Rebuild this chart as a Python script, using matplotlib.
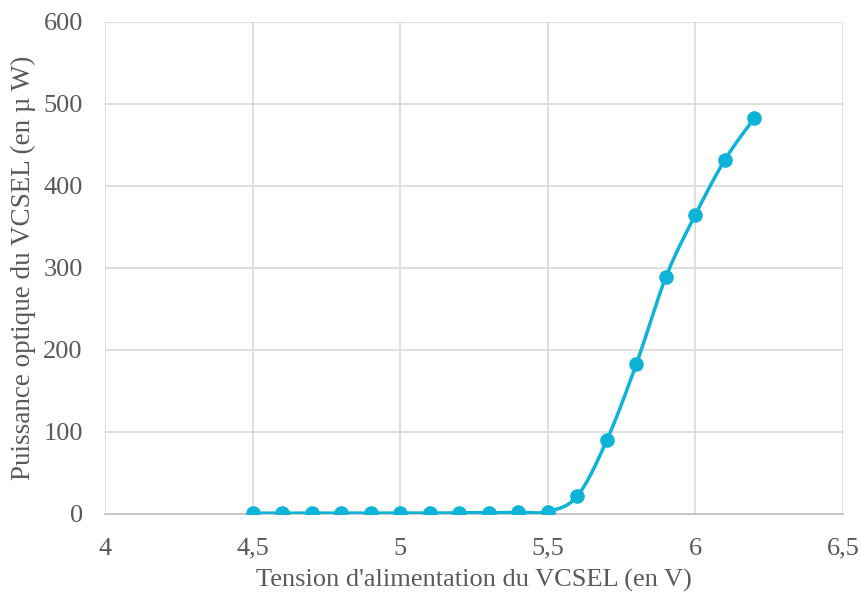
import numpy as np
import matplotlib.pyplot as plt

# Données
tension = [4.5, 4.6, 4.7, 4.8, 4.9, 5.0, 5.1, 5.2, 5.3, 5.4, 5.5, 5.6, 5.7, 5.8, 5.9, 6.0, 6.1, 6.2]
puissance = [1, 1, 1, 1, 1, 1, 1, 1.5, 1.5, 2, 3, 22, 90, 183, 289, 365, 432, 483]
xticks = [4, 4.5, 5, 5.5, 6, 6.5]
xlabels = ['4', '4,5', '5', '5,5', '6', '6,5']
yticks = [0, 100, 200, 300, 400, 500, 600]

couleur = '#0DB4D8'
gris = '#595959'


def lissage(x, y, n=30):
    # courbe lissée façon Excel (Bézier, tension 1/6)
    x = np.asarray(x, float)
    y = np.asarray(y, float)
    xs, ys = [], []
    m = len(x)
    for i in range(m - 1):
        i0 = max(i - 1, 0)
        i3 = min(i + 2, m - 1)
        p0 = np.array([x[i], y[i]])
        p3 = np.array([x[i + 1], y[i + 1]])
        c1 = p0 + (p3 - np.array([x[i0], y[i0]])) / 6
        c2 = p3 - (np.array([x[i3], y[i3]]) - p0) / 6
        t = np.linspace(0, 1, n)[:, None]
        pts = (1 - t) ** 3 * p0 + 3 * (1 - t) ** 2 * t * c1 + 3 * (1 - t) * t ** 2 * c2 + t ** 3 * p3
        xs.extend(pts[:, 0])
        ys.extend(pts[:, 1])
    return xs, ys


plt.rcParams['font.family'] = ['Liberation Serif', 'DejaVu Serif']

fig = plt.figure(figsize=(8.62, 5.96), dpi=100)
ax = fig.add_axes([105 / 862, 1 - 514 / 596, 738 / 862, 492 / 596])

xs, ys = lissage(tension, puissance)
ax.plot(xs, ys, color=couleur, lw=2.5, zorder=3, solid_capstyle='round')
ax.plot(tension, puissance, 'o', color=couleur, ms=9.5, zorder=4)

ax.set_xlim(4, 6.5)
ax.set_ylim(0, 600)
ax.set_xticks(xticks)
ax.set_xticklabels(xlabels)
ax.set_yticks(yticks)
ax.grid(True, color='#D9D9D9', lw=1.2)
ax.set_axisbelow(True)
for s in ['top', 'right', 'left']:
    ax.spines[s].set_visible(False)
ax.spines['bottom'].set_color('#BFBFBF')
ax.spines['bottom'].set_linewidth(1.2)
ax.tick_params(length=0, labelsize=19, labelcolor=gris)
ax.tick_params(axis='x', pad=17)
ax.tick_params(axis='y', pad=16)

ax.set_xlabel("Tension d'alimentation du VCSEL (en V)", fontsize=19, color=gris, labelpad=7)
ax.set_ylabel("Puissance optique du VCSEL (en µ W)", fontsize=19.5, color=gris, labelpad=5)

fig.savefig('out.png', dpi=100)
